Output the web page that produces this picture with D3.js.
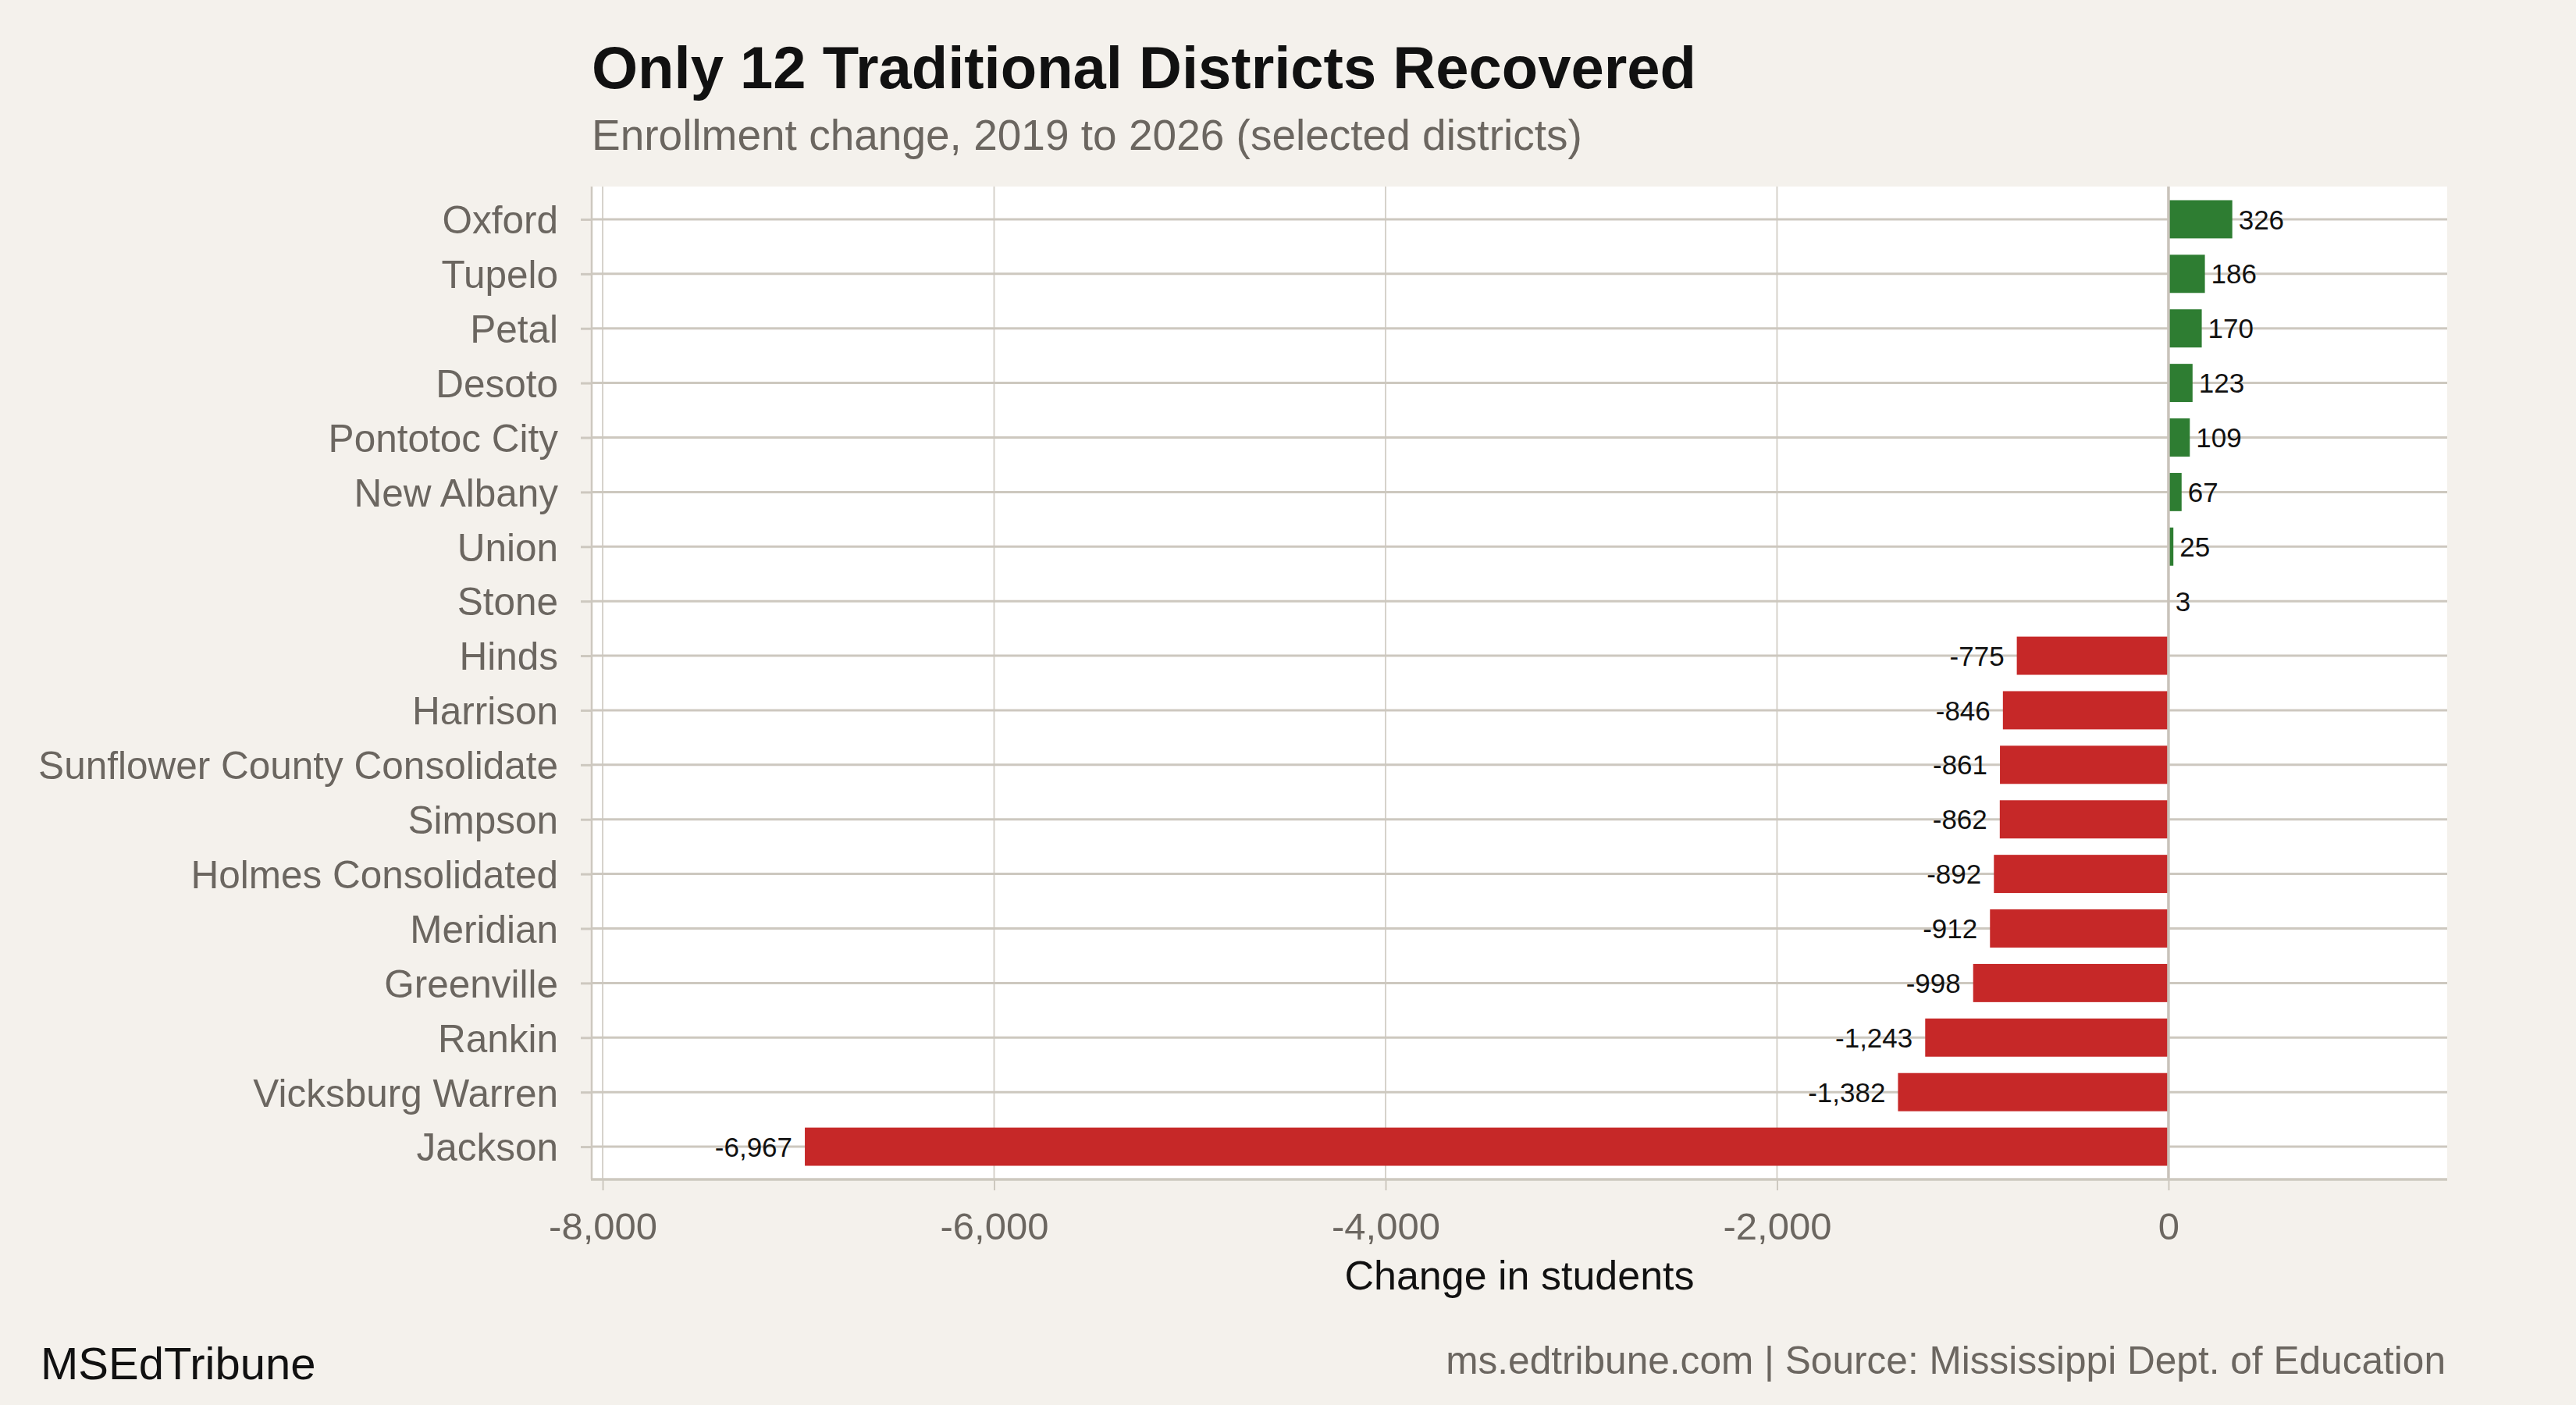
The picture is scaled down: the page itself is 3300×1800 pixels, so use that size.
<!DOCTYPE html>
<html>
<head>
<meta charset="utf-8">
<script src="https://cdn.jsdelivr.net/npm/d3@7"></script>
<style>
  body { margin: 0; background: #f4f1ec; }
  svg { display: block; font-family: "Liberation Sans", Arial, Helvetica, sans-serif; }
</style>
</head>
<body>
<div id="chart"></div>
<script>
const districts = ["Oxford", "Tupelo", "Petal", "Desoto", "Pontotoc City", "New Albany", "Union", "Stone",
  "Hinds", "Harrison", "Sunflower County Consolidate", "Simpson", "Holmes Consolidated", "Meridian",
  "Greenville", "Rankin", "Vicksburg Warren", "Jackson"];
const changes = [326, 186, 170, 123, 109, 67, 25, 3,
  -775, -846, -861, -862, -892, -912, -998, -1243, -1382, -6967];
const xTicks = [-8000, -6000, -4000, -2000, 0];

const titleText = "Only 12 Traditional Districts Recovered";
const subtitleText = "Enrollment change, 2019 to 2026 (selected districts)";
const xTitleText = "Change in students";
const brandText = "MSEdTribune";
const sourceText = "ms.edtribune.com | Source: Mississippi Dept. of Education";

const W = 3300, H = 1800;
const panel = {left: 758, right: 3135, top: 239, bottom: 1511};
const gridCol = "#cdc8bf";
const greyText = "#6b6660";

// hyphen instead of d3's unicode minus
const loc = d3.formatLocale({decimal: ".", thousands: ",", grouping: [3], currency: ["$", ""], minus: "-"});
const fmt = loc.format(",");

const data = districts.map((d, i) => ({name: d, value: changes[i]}));

const svg = d3.select("#chart").append("svg")
  .attr("width", W)
  .attr("height", H);

svg.append("rect").attr("width", W).attr("height", H).attr("fill", "#f4f1ec");

const x = d3.scaleLinear().domain([-8056, 1424]).range([panel.left, panel.right]);
const y = d3.scalePoint().domain(districts).range([panel.top, panel.bottom]).padding(0.6);
const barH = y.step() * 0.7;

// panel
svg.append("rect")
  .attr("x", panel.left).attr("y", panel.top)
  .attr("width", panel.right - panel.left).attr("height", panel.bottom - panel.top)
  .attr("fill", "#ffffff");

// vertical grid
svg.append("g").selectAll("line")
  .data(xTicks)
  .join("line")
  .attr("x1", d => x(d)).attr("x2", d => x(d))
  .attr("y1", panel.top).attr("y2", panel.bottom)
  .attr("stroke", "#d6d2cb")
  .attr("stroke-width", 2);

// horizontal grid
svg.append("g").selectAll("line")
  .data(districts)
  .join("line")
  .attr("x1", panel.left).attr("x2", panel.right)
  .attr("y1", d => y(d)).attr("y2", d => y(d))
  .attr("stroke", gridCol)
  .attr("stroke-width", 3);

// bars
svg.append("g").selectAll("rect")
  .data(data)
  .join("rect")
  .attr("x", d => x(Math.min(0, d.value)))
  .attr("width", d => Math.abs(x(d.value) - x(0)))
  .attr("y", d => y(d.name) - barH / 2)
  .attr("height", barH)
  .attr("fill", d => d.value >= 0 ? "#2e7d32" : "#c62828");

// zero line
svg.append("line")
  .attr("x1", x(0)).attr("x2", x(0))
  .attr("y1", panel.top).attr("y2", panel.bottom)
  .attr("stroke", "#c9c3ba")
  .attr("stroke-width", 3.5);

// value labels
svg.append("g").selectAll("text")
  .data(data)
  .join("text")
  .attr("x", d => d.value >= 0 ? x(d.value) + 8 : x(d.value) - 16)
  .attr("y", d => y(d.name))
  .attr("dy", "0.36em")
  .attr("text-anchor", d => d.value >= 0 ? "start" : "end")
  .attr("font-size", 35)
  .attr("fill", "#111")
  .text(d => fmt(d.value));

// axes
const xAxis = svg.append("g")
  .attr("transform", `translate(0,${panel.bottom})`)
  .call(d3.axisBottom(x).tickValues(xTicks).tickFormat(fmt).tickSize(14).tickPadding(28));
xAxis.select(".domain").remove();
xAxis.selectAll(".tick line").attr("stroke", gridCol).attr("stroke-width", 2);
xAxis.selectAll(".tick text").attr("font-size", 49).attr("fill", greyText).attr("font-family", null);

const yAxis = svg.append("g")
  .attr("transform", `translate(${panel.left},0)`)
  .call(d3.axisLeft(y).tickSize(14).tickPadding(29));
yAxis.select(".domain").remove();
yAxis.selectAll(".tick line").attr("stroke", gridCol).attr("stroke-width", 3);
yAxis.selectAll(".tick text").attr("font-size", 49.5).attr("fill", greyText).attr("dy", "0.36em").attr("font-family", null);

// axis lines
svg.append("line")
  .attr("x1", panel.left).attr("x2", panel.left)
  .attr("y1", panel.top).attr("y2", panel.bottom)
  .attr("stroke", gridCol).attr("stroke-width", 2.5);
svg.append("line")
  .attr("x1", panel.left - 1).attr("x2", panel.right)
  .attr("y1", panel.bottom).attr("y2", panel.bottom)
  .attr("stroke", gridCol).attr("stroke-width", 3.5);

// titles
svg.append("text")
  .attr("x", panel.left).attr("y", 113)
  .attr("font-size", 76).attr("font-weight", "bold").attr("fill", "#111")
  .text(titleText);
svg.append("text")
  .attr("x", panel.left).attr("y", 192)
  .attr("font-size", 55).attr("fill", greyText)
  .text(subtitleText);
svg.append("text")
  .attr("x", (panel.left + panel.right) / 2).attr("y", 1652)
  .attr("text-anchor", "middle")
  .attr("font-size", 52).attr("fill", "#111")
  .text(xTitleText);

// footer
svg.append("text")
  .attr("x", 52).attr("y", 1767)
  .attr("font-size", 58).attr("fill", "#111")
  .text(brandText);
svg.append("text")
  .attr("x", panel.right - 2).attr("y", 1760)
  .attr("text-anchor", "end")
  .attr("font-size", 49.6).attr("fill", greyText)
  .text(sourceText);
</script>
</body>
</html>
